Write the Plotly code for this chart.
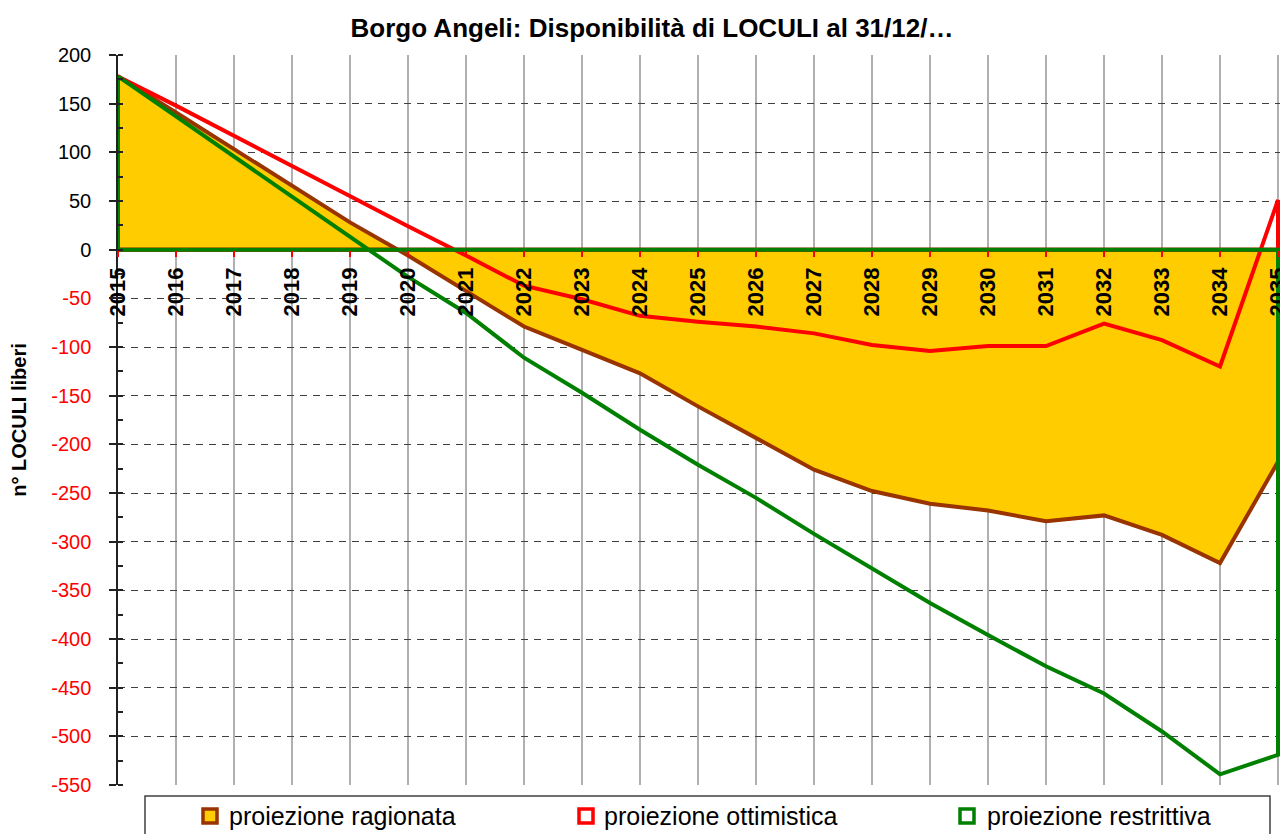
import plotly.graph_objects as go

# ---- data ----
years = list(range(2015, 2036))
ragionata = [178, 141, 103, 66, 28, -6, -42, -79, -103, -127, -161, -194, -226, -248,
             -261, -268, -279, -273, -293, -322, -218]
ottimistica = [178, 148, 117, 85, 54, 24, -6, -37, -51, -68, -74, -79, -86, -98,
               -104, -99, -99, -76, -93, -120, 51]
restrittiva = [178, 137, 96, 54, 13, -28, -65, -111, -147, -185, -221, -255, -292, -328,
               -363, -396, -428, -456, -495, -539, -519]
series_names = ["proiezione ragionata", "proiezione ottimistica", "proiezione restrittiva"]
y_ticks = list(range(200, -551, -50))

FONT = "Liberation Sans, Arial, sans-serif"
YELLOW = "#FFCC00"
BROWN = "#993300"
RED = "#FF0000"
GREEN = "#008000"

W, H = 1280, 834
L, R, T, B = 118, 0, 55, 834 - 785
pw = W - L - R
ph = H - T - B


def px_x(p):
    return (p - L) / pw


def px_y(p):
    return (H - B - p) / ph


def closed(vals):
    # area-style outline: baseline -> values -> baseline
    xs = [years[0]] + years + [years[-1], years[0]]
    ys = [0] + vals + [0, 0]
    return xs, ys


fig = go.Figure()

x, y = closed(ragionata)
fig.add_trace(go.Scatter(x=x, y=y, mode="lines", fill="toself", fillcolor=YELLOW,
                         line=dict(color=BROWN, width=4), name=series_names[0],
                         showlegend=False, hoverinfo="skip"))
x, y = closed(ottimistica)
fig.add_trace(go.Scatter(x=x, y=y, mode="lines", line=dict(color=RED, width=4),
                         name=series_names[1], showlegend=False, hoverinfo="skip"))
x, y = closed(restrittiva)
fig.add_trace(go.Scatter(x=x, y=y, mode="lines", line=dict(color=GREEN, width=4),
                         name=series_names[2], showlegend=False, hoverinfo="skip"))

tick_text = [str(v) if v >= 0 else f'<span style="color:#FF0000">{v}</span>' for v in y_ticks]

# manual legend (box + square icons + labels)
shapes = [dict(type="rect", xref="paper", yref="paper",
               x0=px_x(145), x1=px_x(1270), y0=px_y(880), y1=px_y(796),
               line=dict(color="#404040", width=1.5), fillcolor="white", layer="above")]
annotations = []
icon_x = [210, 586, 967]
text_x = [227, 602, 985]
legend_y = 816
for name, fillc, linec, ix, tx in zip(series_names, [YELLOW, "white", "white"],
                                      [BROWN, RED, GREEN], icon_x, text_x):
    shapes.append(dict(type="rect", xref="paper", yref="paper",
                       xsizemode="pixel", ysizemode="pixel",
                       xanchor=px_x(ix), yanchor=px_y(legend_y),
                       x0=-7, x1=7, y0=-7, y1=7,
                       line=dict(color=linec, width=3.5), fillcolor=fillc, layer="above"))
    annotations.append(dict(xref="paper", yref="paper", x=px_x(tx), y=px_y(legend_y),
                            xanchor="left", yanchor="middle", text=name, showarrow=False,
                            font=dict(family=FONT, size=25, color="black")))

fig.update_layout(
    width=W, height=H,
    margin=dict(l=L, r=R, t=T, b=B, autoexpand=False),
    showlegend=False,
    paper_bgcolor="white", plot_bgcolor="white",
    font=dict(family=FONT, color="black"),
    title=dict(text="Borgo Angeli: Disponibilità di LOCULI al 31/12/…",
               x=652 / W, xanchor="center", xref="container",
               y=1 - 28 / H, yanchor="middle",
               font=dict(family=FONT, size=26, color="black", weight="bold")),
    xaxis=dict(range=[2015, 2015 + pw / 58.0], tickmode="array", tickvals=years,
               ticktext=[str(v) for v in years], tickangle=-90,
               tickfont=dict(family=FONT, size=22, color="black", weight="bold"),
               ticks="outside", ticklen=6, tickwidth=2, tickcolor=RED,
               ticklabelstandoff=2, ticklabeloverflow="allow",
               showgrid=True, gridcolor="#B0B0B0", gridwidth=1.5,
               zeroline=False, showline=False,
               anchor="free", position=550 / 750),
    yaxis=dict(range=[-550, 200], tickmode="array", tickvals=y_ticks, ticktext=tick_text,
               tickfont=dict(family=FONT, size=20, color="black"),
               ticks="outside", ticklen=7, tickwidth=1.5, tickcolor="#222",
               ticklabelstandoff=14,
               minor=dict(dtick=25, ticks="inside", ticklen=5, tickwidth=1.5,
                          tickcolor="#222", showgrid=False),
               showgrid=True, gridcolor="#404040", gridwidth=1, griddash="7px,6px",
               zeroline=False, showline=True, linecolor="#222", linewidth=1.5,
               title=dict(text="n° LOCULI liberi", standoff=19,
                          font=dict(family=FONT, size=20, color="black", weight="bold"))),
    shapes=shapes,
    annotations=annotations,
)

fig.write_html("out.html", config={"displayModeBar": False},
               post_script="document.body.style.margin='0';document.body.style.overflow='hidden';")
